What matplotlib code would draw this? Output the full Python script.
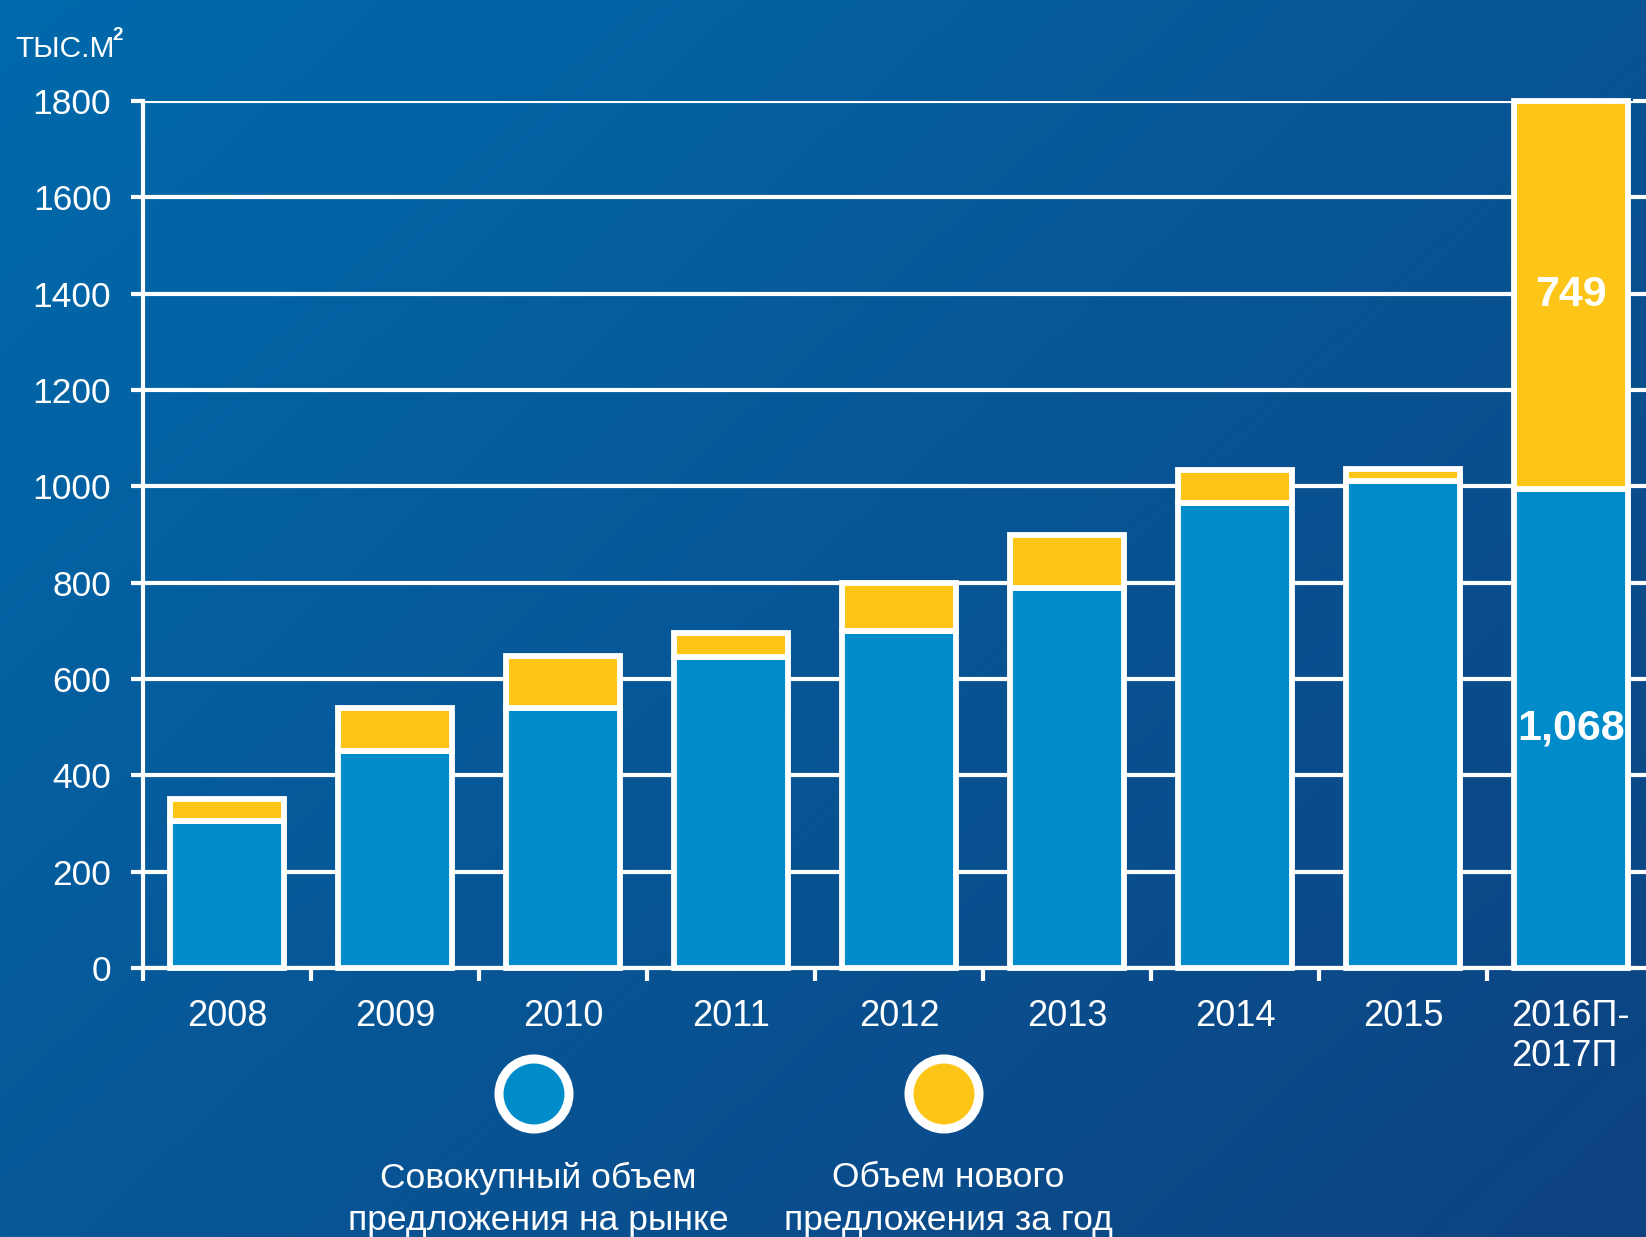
import numpy as np
import matplotlib
matplotlib.use("Agg")
import matplotlib.pyplot as plt
from matplotlib.patches import Circle

plt.rcParams['font.family'] = ['Liberation Sans', 'DejaVu Sans']

# ---- data ----
categories = ['2008', '2009', '2010', '2011', '2012', '2013', '2014', '2015', '2016П-\n2017П']
total_supply = [305, 450, 540, 645, 700, 788, 966, 1011, 995]      # Совокупный объем
new_supply = [45, 90, 108, 50, 100, 110, 68, 25, 805]             # Объем нового
bar_labels = {8: ('1,068', '749')}
y_ticks = [0, 200, 400, 600, 800, 1000, 1200, 1400, 1600, 1800]
legend_labels = ['Совокупный объем\nпредложения на рынке', 'Объем нового\nпредложения за год']
unit_label = 'ТЫС.М'

BLUE = '#008CCB'
YELLOW = '#FDC518'
W, H = 1646, 1237

fig = plt.figure(figsize=(W / 100, H / 100), dpi=100)

# background gradient
bg = fig.add_axes([0, 0, 1, 1], zorder=0)
xx, yy = np.meshgrid(np.linspace(0, 1, 400), np.linspace(0, 1, 300))
t = np.clip(0.55 * xx + 0.45 * yy, 0, 1)[..., None]
c1 = np.array([0, 106, 172]) / 255
c2 = np.array([14, 66, 128]) / 255
img = c1 * (1 - t) + c2 * t
bg.imshow(img, extent=[0, W, H, 0], aspect='auto')
bg.set_xlim(0, W)
bg.set_ylim(H, 0)
bg.axis('off')

# main axes
ax = fig.add_axes([143.3 / W, 1 - 968 / H, (1633 - 143.3) / W, (968 - 101) / H], zorder=2)
ax.set_facecolor('none')

x = np.arange(len(categories), dtype=float)
bw = 0.68
ax.bar(x, total_supply, width=bw, color=BLUE, edgecolor='white', linewidth=4.2,
       zorder=3, clip_on=False)
ax.bar(x, new_supply, bottom=total_supply, width=bw, color=YELLOW, edgecolor='white',
       linewidth=4.2, zorder=3, clip_on=False)

for i, (lb, ly) in bar_labels.items():
    ax.text(x[i], total_supply[i] / 2, lb, ha='center', va='center', color='white',
            fontsize=31, fontweight='bold', zorder=5)
    ax.text(x[i], total_supply[i] + new_supply[i] / 2, ly, ha='center', va='center',
            color='white', fontsize=31, fontweight='bold', zorder=5)

ax.set_xlim(-0.5, 8.37)
ax.set_ylim(0, 1800)
ax.set_yticks(y_ticks)
ax.set_yticklabels([str(v) for v in y_ticks])
ax.set_xticks(x)
ax.set_xticklabels(categories)
ax.set_xticks(np.arange(-0.5, 8.0, 1.0), minor=True)

ax.set_axisbelow(True)
ax.yaxis.grid(True, color='white', linewidth=3)
for s in ['top', 'right']:
    ax.spines[s].set_visible(False)
for s in ['left', 'bottom']:
    ax.spines[s].set_color('white')
    ax.spines[s].set_linewidth(3)

ax.tick_params(axis='y', which='major', direction='out', length=9, width=3, color='white',
               labelcolor='white', labelsize=25.5, pad=14, right=True)
ax.tick_params(axis='x', which='major', length=0, labelcolor='white', labelsize=26, pad=22)
ax.tick_params(axis='x', which='minor', direction='out', length=9, width=3, color='white')
for lbl in ax.get_xticklabels():
    lbl.set_multialignment('left')

# unit label
fig.text(15 / W, 1 - 57 / H, unit_label, color='white', fontsize=21.5,
         ha='left', va='baseline')
fig.text(112 / W, 1 - 40 / H, '2', color='white', fontsize=13.5, fontweight='bold',
         ha='left', va='baseline')

# legend
for cx, col, lab in zip([534, 944], [BLUE, YELLOW], legend_labels):
    bg.add_patch(Circle((cx, 1094), 35, facecolor=col, edgecolor='white', linewidth=6.5,
                        zorder=3))
    bg.text(cx + 4, 1199, lab, color='white', fontsize=25.5, ha='center', va='center',
            linespacing=1.35, zorder=3)

fig.savefig('out.png', dpi=100)
